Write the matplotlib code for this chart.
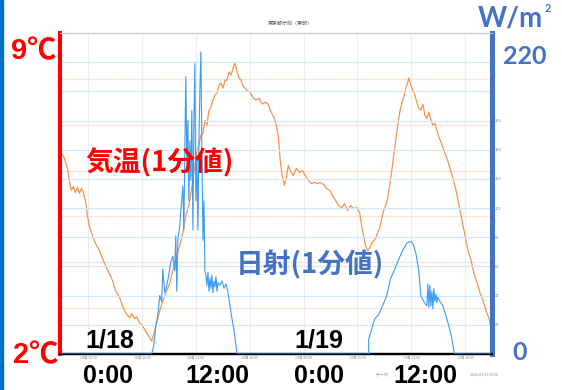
import matplotlib
matplotlib.use("Agg")
import matplotlib.pyplot as plt
from matplotlib.patches import Rectangle

# hours since 2021-01-18 00:00, 1-minute readings sampled off the chart
temp_hours = [-3.17, -2.69, -2.35, -2.13, -1.90, -1.68, -1.46, -1.23, -1.01, -0.78, -0.56, -0.34, -0.11,
              0.11, 0.45, 0.78, 1.23, 1.57, 1.90, 2.35, 2.69, 3.02, 3.47, 3.81, 4.14, 4.59, 4.82, 5.15,
              5.38, 5.71, 6.05, 6.38, 6.83, 7.05, 7.39, 7.73, 7.95, 8.29, 8.62, 9.07, 9.41, 9.74, 10.19,
              10.53, 10.86, 11.20, 11.42, 11.65, 11.87, 12.09, 12.32, 12.54, 12.77, 12.99, 13.21, 13.44,
              13.66, 13.89, 14.11, 14.33, 14.56, 14.78, 15.01, 15.23, 15.45, 15.68, 15.90, 16.13, 16.35,
              16.57, 16.80, 17.02, 17.25, 17.47, 17.69, 18.03, 18.37, 18.70, 19.04, 19.37, 19.71, 20.04,
              20.38, 20.72, 20.94, 21.16, 21.39, 21.61, 21.84, 22.06, 22.28, 22.51, 22.84, 23.18, 23.52,
              23.85, 24.19, 24.52, 24.86, 25.20, 25.53, 25.87, 26.20, 26.54, 26.88, 27.21, 27.55, 27.88,
              28.22, 28.56, 28.89, 29.23, 29.56, 29.90, 30.24, 30.46, 30.68, 30.91, 31.13, 31.35, 31.58,
              31.80, 32.03, 32.25, 32.47, 32.70, 32.92, 33.15, 33.37, 33.59, 33.82, 34.04, 34.27, 34.49,
              34.71, 34.94, 35.16, 35.39, 35.61, 35.72, 35.95, 36.17, 36.39, 36.62, 36.84, 37.07, 37.29,
              37.51, 37.74, 37.96, 38.19, 38.41, 38.63, 38.86, 39.08, 39.31, 39.64, 39.98, 40.31, 40.65,
              40.99, 41.32, 41.66, 41.99, 42.33, 42.67, 43.00, 43.34, 43.67, 44.01, 44.34, 44.68, 44.83]
temp_c = [6.44, 6.27, 6.05, 5.79, 5.57, 5.65, 5.52, 5.63, 5.50, 5.61, 5.52, 5.35, 5.02,
          4.78, 4.58, 4.41, 4.25, 4.08, 3.93, 3.75, 3.60, 3.38, 3.23, 3.05, 2.90, 2.79, 2.88, 2.77,
          2.81, 2.68, 2.61, 2.50, 2.35, 2.28, 2.50, 2.77, 2.94, 3.16, 3.31, 3.55, 3.82, 4.08, 4.36,
          4.65, 5.02, 5.24, 5.52, 5.79, 6.11, 6.44, 6.55, 6.77, 6.81, 7.10, 6.99, 7.32,
          7.38, 7.54, 7.65, 7.69, 7.86, 7.91, 7.80, 7.97, 7.97, 8.15, 8.08, 8.24, 8.35,
          8.15, 8.02, 7.97, 7.84, 7.80, 7.75, 7.71, 7.58, 7.54, 7.58, 7.45, 7.49, 7.45,
          7.27, 7.14, 6.99, 6.77, 6.22, 5.89, 5.68, 5.83, 6.11, 6.00, 5.89, 6.05, 5.96,
          6.00, 5.89, 5.79, 5.72, 5.74, 5.72, 5.74, 5.70, 5.61, 5.57, 5.46, 5.35, 5.24,
          5.19, 5.28, 5.13, 5.24, 5.17, 5.19, 5.09, 4.80, 4.58, 4.36, 4.25, 4.30, 4.41,
          4.47, 4.52, 4.65, 4.74, 4.95, 5.13, 5.24, 5.39, 5.68, 6.00, 6.33, 6.66, 6.99,
          7.27, 7.47, 7.60, 7.80, 7.93, 8.02, 7.86, 7.75, 7.65, 7.49, 7.36, 7.32, 7.45,
          7.21, 7.14, 7.27, 7.10, 6.99, 7.03, 6.88, 6.73, 6.62, 6.44, 6.27, 6.05, 5.83,
          5.57, 5.24, 4.91, 4.58, 4.25, 4.04, 3.75, 3.55, 3.33, 3.16, 2.94, 2.77, 2.61]

rad_hours = [-3.17, 7.05, 7.28, 7.50, 7.73, 7.95, 8.17, 8.29, 8.51, 8.73, 8.96, 9.18, 9.41, 9.63,
             9.74, 9.85, 9.97, 10.19, 10.30, 10.53, 10.64, 10.75, 10.86, 10.97, 11.09, 11.20, 11.31,
             11.42, 11.53, 11.65, 11.76, 11.87, 11.98, 12.09, 12.21, 12.32, 12.43, 12.54, 12.65, 12.77,
             12.88, 12.99, 13.10, 13.21, 13.33, 13.44, 13.55, 13.66, 13.77, 13.89, 14.00, 14.11, 14.22,
             14.33, 14.45, 14.67, 14.89, 15.12, 15.34, 15.57, 15.79, 16.01, 16.24, 16.46, 16.57,
             31.24, 31.25, 31.58, 31.91, 32.36, 32.81, 33.26, 33.71, 34.15, 34.60, 35.05, 35.50, 35.83,
             36.17, 36.51, 36.84, 37.07, 37.40, 37.74, 37.85, 37.96, 38.07, 38.19, 38.30, 38.41, 38.52,
             38.63, 38.75, 38.86, 38.97, 39.19, 39.53, 39.87, 40.20, 40.54, 40.76, 40.87, 44.83]
rad_wm2 = [0, 0, 5.5, 19, 26, 40, 36, 58, 42, 47, 54, 63, 67, 57,
           81, 43, 78, 88, 98, 115, 85, 140, 190, 133, 160, 105, 146,
           119, 167, 85, 160, 199, 105, 136, 85, 146, 181, 207, 140, 78,
           105, 57, 54, 47, 56, 43, 52, 45, 54, 42, 50, 46, 53,
           43, 49, 47, 50, 45, 48, 42, 33, 24, 16, 5.5, 0,
           0, 10, 17, 24, 27, 33, 40, 52, 58, 65, 71, 76, 77,
           76, 69, 57, 40, 36, 33, 48, 32, 47, 33, 43, 31, 45,
           36, 41, 35, 39, 36, 33, 26, 19, 10, 2, 0, 0]

temp_grid = [3, 4, 5, 6, 7, 8]
rad_grid = [20, 40, 60, 80, 100, 120, 140, 160, 180, 200]
rad_labels = ["20", "40", "60", "80", "100", "120", "140", "160", "", ""]
time_ticks = [0, 6, 12, 18, 24, 30, 36, 42]
time_labels = ["18日 00:00", "18日 06:00", "18日 12:00", "18日 18:00",
               "19日 00:00", "19日 06:00", "19日 12:00", "19日 18:00"]

RED = "#FF0000"
BLUE = "#4472C4"
JP = ["Noto Sans CJK JP", "DejaVu Sans"]
W, H = 562, 390


def px(x, y):
    return x / W, 1 - y / H


fig = plt.figure(figsize=(5.62, 3.90), dpi=100)
fig.patch.set_facecolor("white")
fig.add_artist(Rectangle((0, 0), 3 / W, 1, transform=fig.transFigure, color="#0070C0"))

ax = fig.add_axes([60 / W, 36 / H, 432 / W, 321 / H])
ax.set_xlim(-3.17, 45.0)
ax.set_ylim(2, 9)
for t in temp_grid:
    ax.axhline(t, color="#FBE3D6", lw=0.9, zorder=0)
for h in time_ticks:
    ax.axvline(h, color="#E8EEF4", lw=0.8, zorder=0)
ax.plot(temp_hours, temp_c, color="#F7873A", lw=0.9, alpha=0.9, zorder=3)
ax.set_yticks([])
ax.set_xticks(time_ticks)
ax.set_xticklabels(time_labels, fontsize=2.6, color="#888888", family=JP)
ax.tick_params(axis="x", length=0, pad=1.5)

ax2 = ax.twinx()
ax2.set_ylim(0, 220)
for r in rad_grid:
    ax2.axhline(r, color="#D2E8F8", lw=0.9, zorder=0)
ax2.plot(rad_hours, rad_wm2, color="#3A9BF2", lw=0.8, zorder=4)
ax2.set_yticks(rad_grid)
ax2.set_yticklabels(rad_labels, fontsize=2.6, color="#888888")
ax2.tick_params(axis="y", length=0, pad=2)

for a in (ax, ax2):
    a.spines["left"].set_color(RED)
    a.spines["left"].set_linewidth(2.9)
    a.spines["right"].set_color(BLUE)
    a.spines["right"].set_linewidth(3.6)
    a.spines["bottom"].set_color("black")
    a.spines["bottom"].set_linewidth(1.6)
    a.spines["top"].set_color("#C8C8C8")
    a.spines["top"].set_linewidth(0.8)

# small captions from the original chart
fig.text(*px(290, 24), "東京都庁前（東部）", fontsize=3.6, color="#555555",
         ha="center", va="center", family=JP)
fig.text(*px(376, 374), "[データ]", fontsize=2.6, color="#888888",
         ha="left", va="center", family=JP)
fig.text(*px(498, 374), "2021/01/19 20:50", fontsize=2.6, color="#888888",
         ha="right", va="center", family=JP)

# overlay labels
num = ["Liberation Sans", "Noto Sans CJK JP"]
fig.text(*px(34, 51), "9℃", color=RED, fontsize=21, fontweight="bold",
         ha="center", va="center", family=num)
fig.text(*px(36, 355), "2℃", color=RED, fontsize=21, fontweight="bold",
         ha="center", va="center", family=num)
fig.text(*px(160, 163), "気温(1分値)", color=RED, fontsize=20, fontweight="bold",
         ha="center", va="center", family=JP)
fig.text(*px(310, 265), "日射(1分値)", color=BLUE, fontsize=20, fontweight="bold",
         ha="center", va="center", family=JP)
fig.text(*px(543, 18), "W/m", color=BLUE, fontsize=20, fontweight="bold",
         ha="right", va="center", family="Lato")
fig.text(*px(545, 8), "2", color=BLUE, fontsize=8, fontweight="bold",
         ha="left", va="center", family="Lato")
fig.text(*px(525, 56), "220", color=BLUE, fontsize=18, fontweight="bold",
         ha="center", va="center", family="Lato")
fig.text(*px(520, 352), "0", color=BLUE, fontsize=18, fontweight="bold",
         ha="center", va="center", family="Lato")

for x, s in [(110, "1/18"), (319, "1/19")]:
    fig.text(*px(x, 341), s, color="black", fontsize=18, fontweight="bold",
             ha="center", va="center", family="Liberation Sans")
for x, s in [(108, "0:00"), (217, "12:00"), (319, "0:00"), (425, "12:00")]:
    fig.text(*px(x, 376), s, color="black", fontsize=18, fontweight="bold",
             ha="center", va="center", family="Liberation Sans")

fig.savefig("out.png", dpi=100, facecolor="white")
